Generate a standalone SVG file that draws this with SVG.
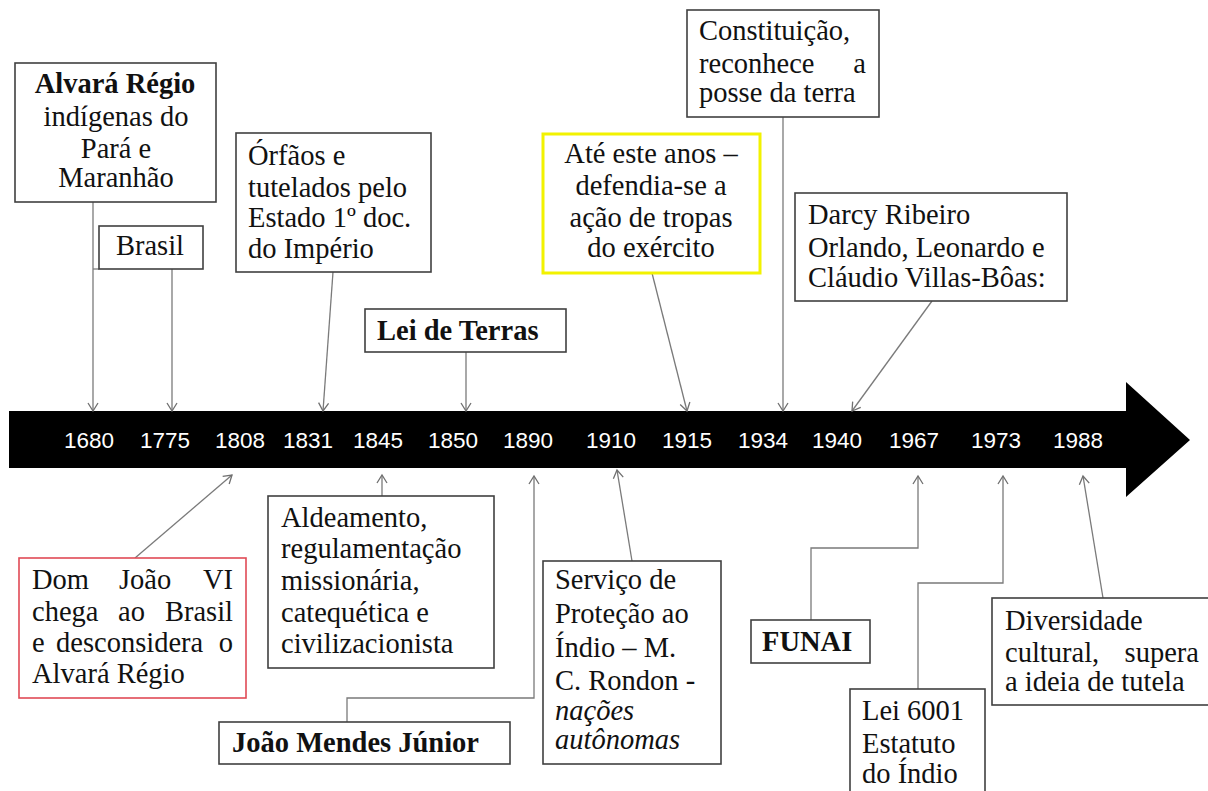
<svg xmlns="http://www.w3.org/2000/svg" width="1208" height="791" viewBox="0 0 1208 791">
<defs>
<marker id="ah" markerUnits="userSpaceOnUse" markerWidth="14" markerHeight="14" refX="9" refY="6" orient="auto" viewBox="0 0 14 12">
<path d="M1,1 L9,6 L1,11" fill="none" stroke="#707070" stroke-width="1.3"/>
</marker>
</defs>
<style>
.box{fill:#fff;stroke:#404040;stroke-width:1.6}
.t{font-family:"Liberation Serif","Times New Roman",serif;font-size:28.5px;fill:#111}
.b{font-weight:bold}
.i{font-style:italic}
.m{text-anchor:middle}
.e{text-anchor:end}
.yr{font-family:"Liberation Sans",Arial,sans-serif;font-size:22.5px;fill:#fff;text-anchor:middle}
.c{fill:none;stroke:#7a7a7a;stroke-width:1.3}
.ca{marker-end:url(#ah)}
</style>
<rect width="1208" height="791" fill="#fff"/>

<g id="timeline">
<path d="M9,411 L1126,411 L1126,382 L1190,440 L1126,497 L1126,468 L9,468 Z" fill="#000"/>
<text class="yr" x="89" y="448">1680</text>
<text class="yr" x="165" y="448">1775</text>
<text class="yr" x="240" y="448">1808</text>
<text class="yr" x="308" y="448">1831</text>
<text class="yr" x="378" y="448">1845</text>
<text class="yr" x="453" y="448">1850</text>
<text class="yr" x="528" y="448">1890</text>
<text class="yr" x="611" y="448">1910</text>
<text class="yr" x="687" y="448">1915</text>
<text class="yr" x="763" y="448">1934</text>
<text class="yr" x="837" y="448">1940</text>
<text class="yr" x="914" y="448">1967</text>
<text class="yr" x="996" y="448">1973</text>
<text class="yr" x="1078" y="448">1988</text>
</g>

<g id="connectors">
<path class="c ca" d="M93,202 L93,411"/>
<path class="c" d="M93,269 L99,269"/>
<path class="c ca" d="M172,269 L172,411"/>
<path class="c ca" d="M333,272 L323,411"/>
<path class="c ca" d="M466,352 L466,411"/>
<path class="c ca" d="M652,273 L687,411"/>
<path class="c ca" d="M783,117 L783,411"/>
<path class="c ca" d="M932,301 L852,411"/>
<path class="c ca" d="M135,558 L232,475"/>
<path class="c ca" d="M382,496 L382,475"/>
<path class="c ca" d="M347,722 L347,698 L534,698 L534,476"/>
<path class="c ca" d="M632,561 L617,470"/>
<path class="c ca" d="M811,620 L811,548 L918,548 L918,476"/>
<path class="c ca" d="M918,689 L918,583 L1003,583 L1003,476"/>
<path class="c ca" d="M1103,598 L1083,476"/>
</g>

<g id="alvara">
<rect class="box" x="15" y="63" width="201" height="139"/>
<text class="t b m" x="115" y="93">Alvará Régio</text>
<text class="t m" x="116" y="126">indígenas do</text>
<text class="t m" x="116" y="158">Pará e</text>
<text class="t m" x="116" y="187">Maranhão</text>
</g>

<g id="brasil">
<rect class="box" x="99" y="226" width="104" height="43"/>
<text class="t m" x="150" y="255">Brasil</text>
</g>

<g id="orfaos">
<rect class="box" x="236" y="133" width="195" height="139"/>
<text class="t" x="248" y="165">Órfãos e</text>
<text class="t" x="248" y="197">tutelados pelo</text>
<text class="t" x="248" y="227">Estado 1º doc.</text>
<text class="t" x="248" y="258">do Império</text>
</g>

<g id="lei-terras">
<rect class="box" x="365" y="309" width="201" height="43"/>
<text class="t b" x="377" y="340">Lei de Terras</text>
</g>

<g id="ate-este">
<rect x="543" y="134" width="217" height="139" fill="#fff" stroke="#f2f200" stroke-width="3"/>
<text class="t m" x="651" y="163">Até este anos –</text>
<text class="t m" x="651" y="195">defendia-se a</text>
<text class="t m" x="651" y="227">ação de tropas</text>
<text class="t m" x="651" y="257">do exército</text>
</g>

<g id="constituicao">
<rect class="box" x="687" y="10" width="192" height="107"/>
<text class="t" x="699" y="40">Constituição,</text>
<text class="t" x="699" y="73">reconhece</text>
<text class="t e" x="866" y="73">a</text>
<text class="t" x="699" y="102">posse da terra</text>
</g>

<g id="darcy">
<rect class="box" x="795" y="193" width="272" height="108"/>
<text class="t" x="808" y="224">Darcy Ribeiro</text>
<text class="t" x="808" y="257">Orlando, Leonardo e</text>
<text class="t" x="808" y="287">Cláudio Villas-Bôas:</text>
</g>

<g id="dom-joao">
<rect x="19" y="558" width="227" height="140" fill="#fff" stroke="#e04a55" stroke-width="1.6"/>
<text class="t" x="32" y="589">Dom</text>
<text class="t" x="119" y="589">João</text>
<text class="t e" x="233" y="589">VI</text>
<text class="t" x="32" y="621">chega</text>
<text class="t" x="118" y="621">ao</text>
<text class="t e" x="233" y="621">Brasil</text>
<text class="t" x="32" y="652">e</text>
<text class="t" x="56" y="652">desconsidera</text>
<text class="t e" x="233" y="652">o</text>
<text class="t" x="32" y="683">Alvará Régio</text>
</g>

<g id="aldeamento">
<rect class="box" x="268" y="496" width="226" height="172"/>
<text class="t" x="281" y="527">Aldeamento,</text>
<text class="t" x="281" y="558">regulamentação</text>
<text class="t" x="281" y="590">missionária,</text>
<text class="t" x="281" y="622">catequética e</text>
<text class="t" x="281" y="653">civilizacionista</text>
</g>

<g id="joao-mendes">
<rect class="box" x="219" y="722" width="291" height="42"/>
<text class="t b" x="232" y="752">João Mendes Júnior</text>
</g>

<g id="servico">
<rect class="box" x="543" y="561" width="178" height="203"/>
<text class="t" x="555" y="589">Serviço de</text>
<text class="t" x="555" y="623">Proteção ao</text>
<text class="t" x="555" y="657">Índio – M.</text>
<text class="t" x="555" y="690">C. Rondon -</text>
<text class="t i" x="555" y="720">nações</text>
<text class="t i" x="555" y="749">autônomas</text>
</g>

<g id="funai">
<rect class="box" x="751" y="620" width="119" height="43"/>
<text class="t b" x="762" y="651">FUNAI</text>
</g>

<g id="lei-6001">
<rect class="box" x="850" y="689" width="135" height="110"/>
<text class="t" x="862" y="720">Lei 6001</text>
<text class="t" x="862" y="753">Estatuto</text>
<text class="t" x="862" y="783">do Índio</text>
</g>

<g id="diversidade">
<rect class="box" x="992" y="598" width="222" height="107"/>
<text class="t" x="1005" y="630">Diversidade</text>
<text class="t" x="1005" y="662">cultural,</text>
<text class="t e" x="1199" y="662">supera</text>
<text class="t" x="1005" y="691">a ideia de tutela</text>
</g>
</svg>
